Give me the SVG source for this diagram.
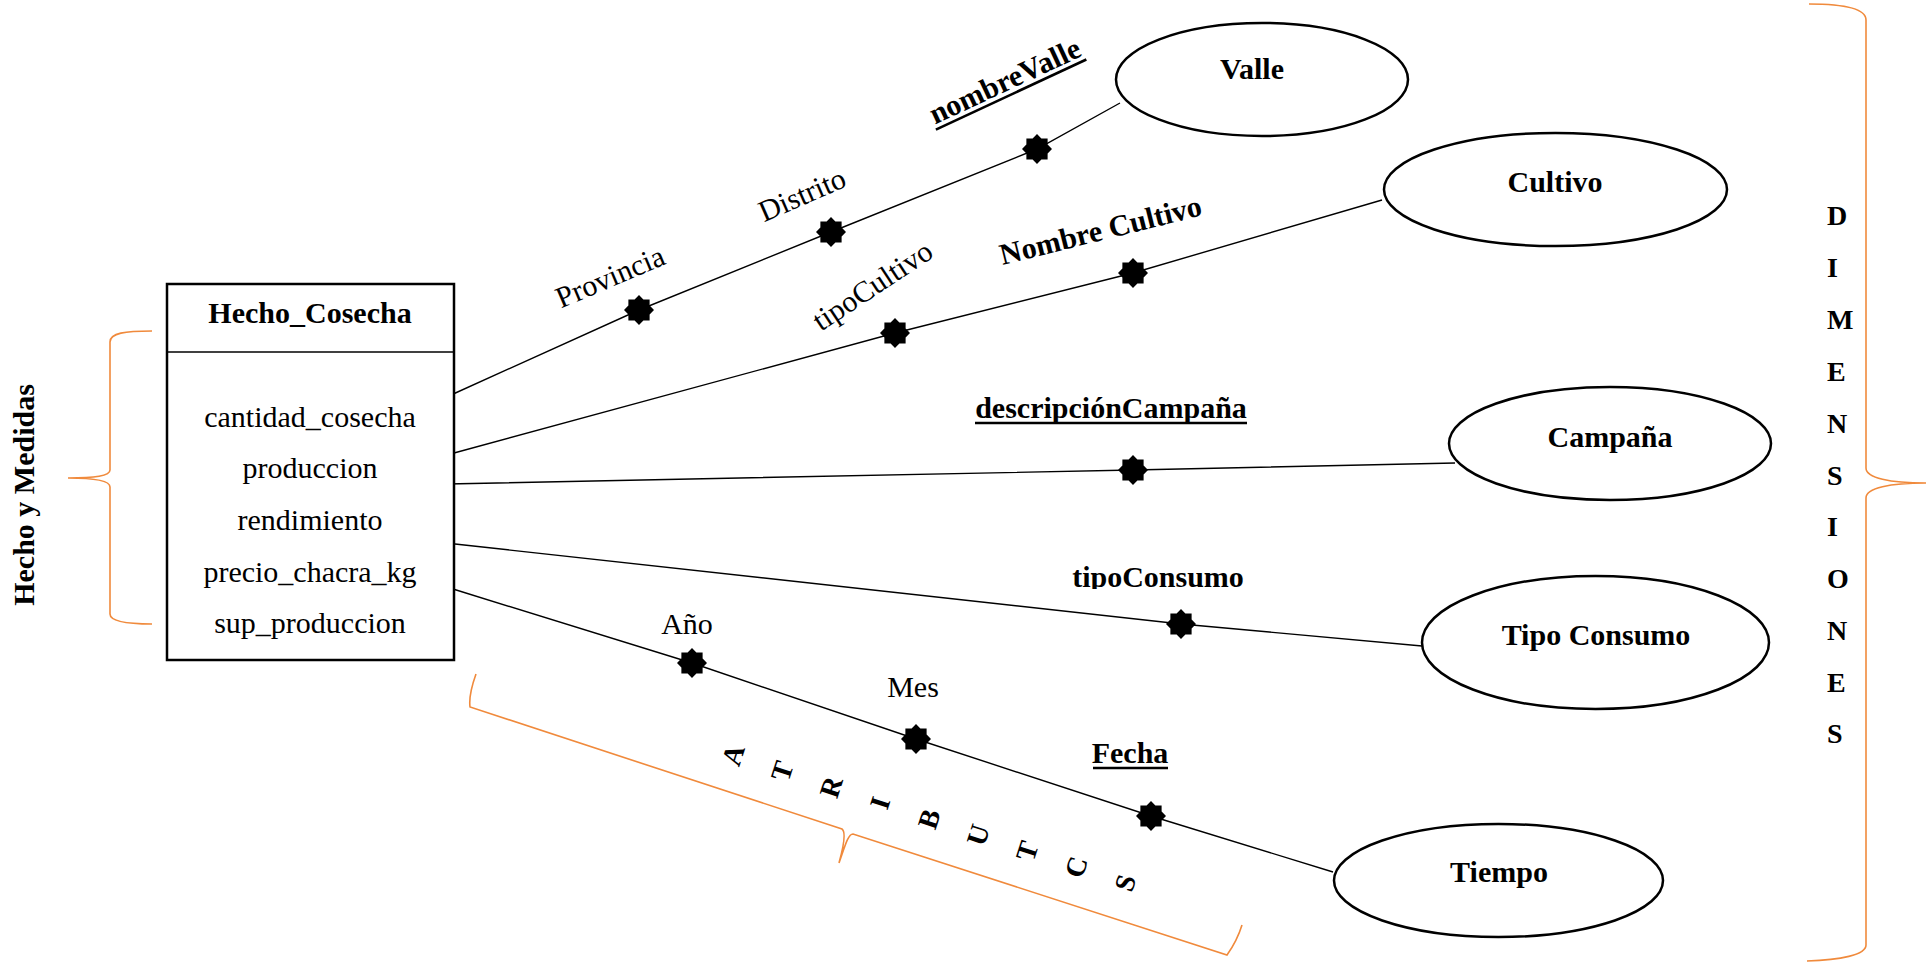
<svg xmlns="http://www.w3.org/2000/svg" xmlns:xlink="http://www.w3.org/1999/xlink" width="1930" height="964" viewBox="0 0 1930 964">
  <style>
    text { font-family: "Liberation Serif", "Times New Roman", serif; font-size: 30px; fill: #000; }
    .b { font-weight: bold; }
    .mid { text-anchor: middle; }
    .node { fill: #fff; stroke: #000; stroke-width: 2.5; }
    .link { fill: none; stroke: #000; stroke-width: 1.4; }
    .brace { fill: none; stroke: #f08a3c; stroke-width: 1.6; }
    .ul { stroke: #000; stroke-width: 2.6; }
    .letter { font-weight: bold; font-size: 28px; }
  </style>
  <defs>
    <!-- eight-pointed marker used for attribute levels -->
    <polygon id="star" points="0,-15 4.4,-10.62 10.61,-10.61 10.62,-4.4 15,0 10.62,4.4 10.61,10.61 4.4,10.62 0,15 -4.4,10.62 -10.61,10.61 -10.62,4.4 -15,0 -10.62,-4.4 -10.61,-10.61 -4.4,-10.62" fill="#000"/>
    <clipPath id="clipTipo">
      <rect x="1050" y="540" width="220" height="49"/>
    </clipPath>
  </defs>

  <rect width="1930" height="964" fill="#fff"/>

  <!-- connectors from the fact table to each dimension -->
  <g id="connectors">
    <polyline class="link" points="451,395 639,310 831,232 1037,149 1120,103"/>
    <polyline class="link" points="454,453 895,333 1133,273 1382,200"/>
    <polyline class="link" points="447,484 1133,470 1455,463"/>
    <polyline class="link" points="455,544 1181,624 1422,646"/>
    <polyline class="link" points="453,589 692,663 916,739 1151,816 1333,872"/>
  </g>

  <!-- hierarchy level markers -->
  <g id="levels">
    <use xlink:href="#star" x="639" y="310"/>
    <use xlink:href="#star" x="831" y="232"/>
    <use xlink:href="#star" x="1037" y="149"/>
    <use xlink:href="#star" x="895" y="333"/>
    <use xlink:href="#star" x="1133" y="273"/>
    <use xlink:href="#star" x="1133" y="470"/>
    <use xlink:href="#star" x="1181" y="624"/>
    <use xlink:href="#star" x="692" y="663"/>
    <use xlink:href="#star" x="916" y="739"/>
    <use xlink:href="#star" x="1151" y="816"/>
  </g>

  <!-- attribute labels -->
  <g id="attribute-labels">
    <text class="mid" transform="translate(614,286) rotate(-23)">Provincia</text>
    <text class="mid" transform="translate(806,204) rotate(-23.5)">Distrito</text>
    <g transform="translate(1009,90) rotate(-25)">
      <text class="b mid">nombreValle</text>
      <line class="ul" x1="-83" y1="5" x2="83" y2="5"/>
    </g>
    <text class="mid" transform="translate(878,294) rotate(-33.5)">tipoCultivo</text>
    <text class="b mid" transform="translate(1103,240) rotate(-14)">Nombre Cultivo</text>
    <text class="b mid" x="1111" y="418">descripciónCampaña</text>
    <line class="ul" x1="975" y1="423" x2="1247" y2="423"/>
    <text class="b mid" x="1158" y="587" clip-path="url(#clipTipo)">tipoConsumo</text>
    <text class="mid" x="687" y="634">Año</text>
    <text class="mid" x="913" y="697">Mes</text>
    <text class="b mid" x="1130" y="763">Fecha</text>
    <line class="ul" x1="1093" y1="768" x2="1168" y2="768"/>
  </g>

  <!-- fact table -->
  <g id="hecho-cosecha">
    <rect class="node" x="167" y="284" width="287" height="376"/>
    <line x1="167" y1="352" x2="454" y2="352" stroke="#000" stroke-width="1.5"/>
    <text class="b mid" x="310" y="323">Hecho_Cosecha</text>
    <text class="mid" x="310" y="427">cantidad_cosecha</text>
    <text class="mid" x="310" y="478">produccion</text>
    <text class="mid" x="310" y="530">rendimiento</text>
    <text class="mid" x="310" y="582">precio_chacra_kg</text>
    <text class="mid" x="310" y="633">sup_produccion</text>
  </g>

  <!-- dimensions -->
  <g id="valle">
    <ellipse class="node" cx="1262" cy="79.5" rx="146" ry="56.5"/>
    <text class="b mid" x="1252" y="79">Valle</text>
  </g>
  <g id="cultivo">
    <ellipse class="node" cx="1555.5" cy="189.5" rx="171.5" ry="56.5"/>
    <text class="b mid" x="1555" y="192">Cultivo</text>
  </g>
  <g id="campana">
    <ellipse class="node" cx="1610" cy="443.5" rx="161" ry="56.5"/>
    <text class="b mid" x="1610" y="447">Campaña</text>
  </g>
  <g id="tipo-consumo">
    <ellipse class="node" cx="1595.5" cy="642.5" rx="173.5" ry="66.5"/>
    <text class="b mid" x="1596" y="645">Tipo Consumo</text>
  </g>
  <g id="tiempo">
    <ellipse class="node" cx="1498.5" cy="880.5" rx="164.5" ry="56.5"/>
    <text class="b mid" x="1499" y="882">Tiempo</text>
  </g>

  <!-- group annotations -->
  <g id="hecho-medidas">
    <path class="brace" d="M152,331 C125,331 110,333 110,342 L110,470 C110,476 95,478 68,478 C95,478 110,481 110,487 L110,614 C110,621 125,624 152,624"/>
    <text class="b mid" transform="translate(34,495) rotate(-90)">Hecho y Medidas</text>
  </g>

  <g id="dimensiones">
    <path class="brace" d="M1809,4 C1840,4 1866,8 1866,20 L1866,468 C1866,478 1890,483 1926,483 C1890,483 1866,488 1866,498 L1866,945 C1866,955 1840,960 1807,961"/>
    <text class="letter" x="1827" y="225">D</text>
    <text class="letter" x="1827" y="277">I</text>
    <text class="letter" x="1827" y="329">M</text>
    <text class="letter" x="1827" y="381">E</text>
    <text class="letter" x="1827" y="433">N</text>
    <text class="letter" x="1827" y="485">S</text>
    <text class="letter" x="1827" y="536">I</text>
    <text class="letter" x="1827" y="588">O</text>
    <text class="letter" x="1827" y="640">N</text>
    <text class="letter" x="1827" y="692">E</text>
    <text class="letter" x="1827" y="743">S</text>
  </g>

  <g id="atributos">
    <path class="brace" d="M476,674 C471,688 469,699 470,707 L842,829 C846,832 844,845 839,863 C845,846 848,834 853,834 L1227,955 C1232,948 1238,938 1242,925"/>
    <text class="letter mid" transform="translate(733,755) rotate(-72)" y="9.5">A</text>
    <text class="letter mid" transform="translate(782,771) rotate(-72)" y="9.5">T</text>
    <text class="letter mid" transform="translate(831,787) rotate(-72)" y="9.5">R</text>
    <text class="letter mid" transform="translate(880,803) rotate(-72)" y="9.5">I</text>
    <text class="letter mid" transform="translate(929,819) rotate(-72)" y="9.5">B</text>
    <text class="letter mid" transform="translate(978,835) rotate(-72)" y="9.5">U</text>
    <text class="letter mid" transform="translate(1027,851) rotate(-72)" y="9.5">T</text>
    <text class="letter mid" transform="translate(1076,867) rotate(-72)" y="9.5">C</text>
    <text class="letter mid" transform="translate(1125,883) rotate(-72)" y="9.5">S</text>
  </g>
</svg>
